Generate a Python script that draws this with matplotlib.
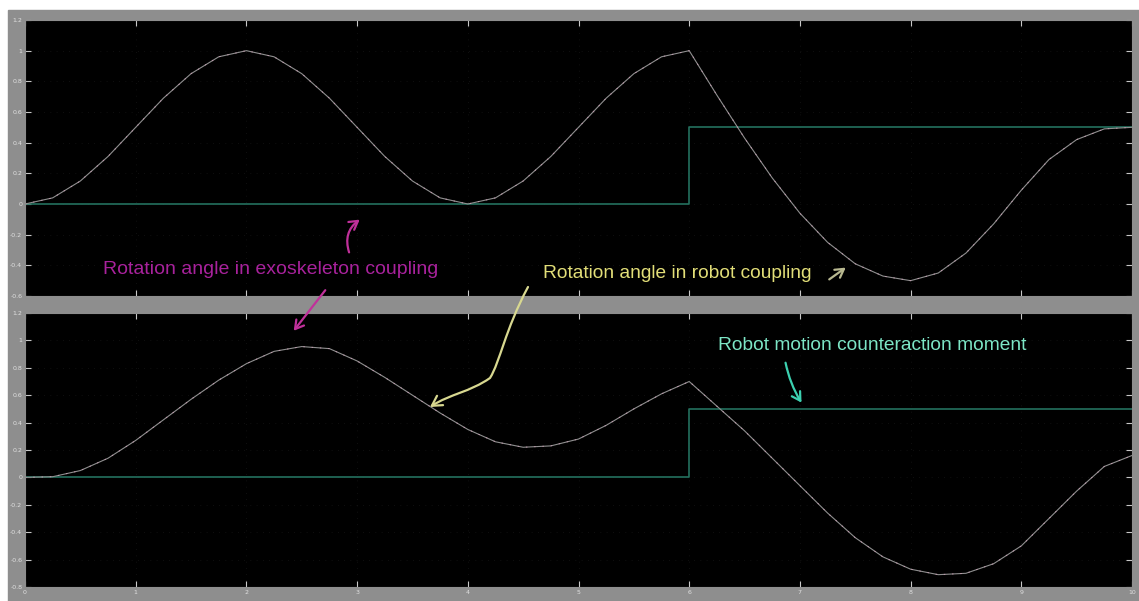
import matplotlib.pyplot as plt
from matplotlib.patches import Rectangle, FancyArrowPatch
from matplotlib.path import Path

# time axis (s), read every 0.25 s
t = [0.0, 0.25, 0.5, 0.75, 1.0, 1.25, 1.5, 1.75, 2.0, 2.25, 2.5, 2.75, 3.0,
     3.25, 3.5, 3.75, 4.0, 4.25, 4.5, 4.75, 5.0, 5.25, 5.5, 5.75, 6.0,
     6.25, 6.5, 6.75, 7.0, 7.25, 7.5, 7.75, 8.0, 8.25, 8.5, 8.75, 9.0,
     9.25, 9.5, 9.75, 10.0]

# upper scope: rotation angle in exoskeleton coupling
exo_angle = [0.0, 0.04, 0.15, 0.31, 0.5, 0.69, 0.85, 0.96, 1.0, 0.96, 0.85,
             0.69, 0.5, 0.31, 0.15, 0.04, 0.0, 0.04, 0.15, 0.31, 0.5, 0.69,
             0.85, 0.96, 1.0, 0.71, 0.43, 0.17, -0.06, -0.25, -0.39, -0.47,
             -0.5, -0.45, -0.32, -0.13, 0.09, 0.29, 0.42, 0.49, 0.5]

# lower scope: rotation angle in robot coupling
robot_angle = [0.0, 0.005, 0.05, 0.14, 0.27, 0.42, 0.57, 0.71, 0.83, 0.92,
               0.955, 0.94, 0.85, 0.73, 0.60, 0.47, 0.35, 0.26, 0.22, 0.23,
               0.28, 0.38, 0.50, 0.61, 0.70, 0.52, 0.34, 0.14, -0.06, -0.26,
               -0.44, -0.58, -0.67, -0.71, -0.70, -0.63, -0.50, -0.30, -0.10,
               0.08, 0.16]

# counteraction moment (step at t = 6)
step_t = [0, 6, 6, 10]
step_v = [0, 0, 0.5, 0.5]

xticks = list(range(0, 11))
top_yticks = [1.2, 1, 0.8, 0.6, 0.4, 0.2, 0, -0.2, -0.4, -0.6]
bot_yticks = [1.2, 1, 0.8, 0.6, 0.4, 0.2, 0, -0.2, -0.4, -0.6, -0.8]

W, H = 1139, 601
fig = plt.figure(figsize=(W / 100, H / 100), dpi=100, facecolor='white')

# gray scope frame, behind the axes
fig.patches.append(Rectangle((8 / W, 0), (W - 8) / W, (H - 10) / H,
                             transform=fig.transFigure, color='#8e8e8e', zorder=-10))


def px(x, y):
    # pixel position -> figure fraction
    return (x / W, 1 - y / H)


def style_axes(ax, ymin, ymax, yticks, show_x):
    ax.set_facecolor('black')
    ax.set_xlim(0, 10)
    ax.set_ylim(ymin, ymax)
    ax.set_xticks(xticks)
    ax.set_yticks(yticks)
    ax.set_yticklabels([f'{v:g}' for v in yticks])
    if show_x:
        ax.set_xticklabels([str(v) for v in xticks])
    else:
        ax.set_xticklabels([])
    ax.tick_params(direction='in', length=4, width=0.8, colors='#c8c8c8',
                   labelsize=4.5, labelcolor='#e0e0e0', pad=2,
                   top=True, right=True)
    ax.grid(True, color='#3a3a3a', linestyle=(0, (1, 8)), linewidth=0.5, alpha=0.5)
    for s in ax.spines.values():
        s.set_color('#8e8e8e')


ax1 = fig.add_axes([25 / W, 1 - 296 / H, 1107 / W, 276 / H])
ax2 = fig.add_axes([25 / W, 1 - 587 / H, 1107 / W, 274 / H])

style_axes(ax1, -0.6, 1.2, top_yticks, False)
style_axes(ax2, -0.8, 1.2, bot_yticks, True)

for ax, curve in [(ax1, exo_angle), (ax2, robot_angle)]:
    ax.plot(step_t, step_v, color='#23705e', linewidth=1.2)
    ax.plot(t, curve, color='#8f8f8f', linewidth=0.8, solid_joinstyle='round')
    ax.plot(t, curve, color='#d0a0b8', linewidth=0.7, linestyle=(0, (1.5, 7)), alpha=0.8)

# annotations
font = ['Liberation Sans', 'DejaVu Sans']
fig.text(*px(103, 270), 'Rotation angle in exoskeleton coupling', color='#a8229c',
         fontsize=14, family=font, va='center', ha='left')
fig.text(*px(543, 273), 'Rotation angle in robot coupling', color='#e2de78',
         fontsize=13.8, family=font, va='center', ha='left')
fig.text(*px(718, 345), 'Robot motion counteraction moment', color='#7de6c6',
         fontsize=13.8, family=font, va='center', ha='left')

arrows = [
    # (start, end, color, rad)
    ((350, 255), (362, 218), '#c0309a', -0.4),
    ((327, 288), (292, 333), '#c0309a', 0.0),
    ((827, 281), (848, 266), '#b8b890', 0.0),
    ((785, 360), (803, 405), '#3cd0b0', 0.1),
]
for a, b, c, rad in arrows:
    fig.add_artist(FancyArrowPatch(px(*a), px(*b), transform=fig.transFigure,
                                   arrowstyle='->,head_length=6,head_width=3.5',
                                   connectionstyle=f'arc3,rad={rad}',
                                   color=c, linewidth=1.6))

# curly yellow arrow into the lower scope
verts = [px(528, 287), px(505, 330), px(500, 362), px(490, 378),
         px(470, 392), px(450, 394), px(430, 407)]
codes = [Path.MOVETO, Path.CURVE4, Path.CURVE4, Path.CURVE4,
         Path.CURVE4, Path.CURVE4, Path.CURVE4]
fig.add_artist(FancyArrowPatch(path=Path(verts, codes), transform=fig.transFigure,
                               arrowstyle='->,head_length=7,head_width=4',
                               color='#d8d890', linewidth=1.6))

fig.savefig('out.png', dpi=100, facecolor='white')
